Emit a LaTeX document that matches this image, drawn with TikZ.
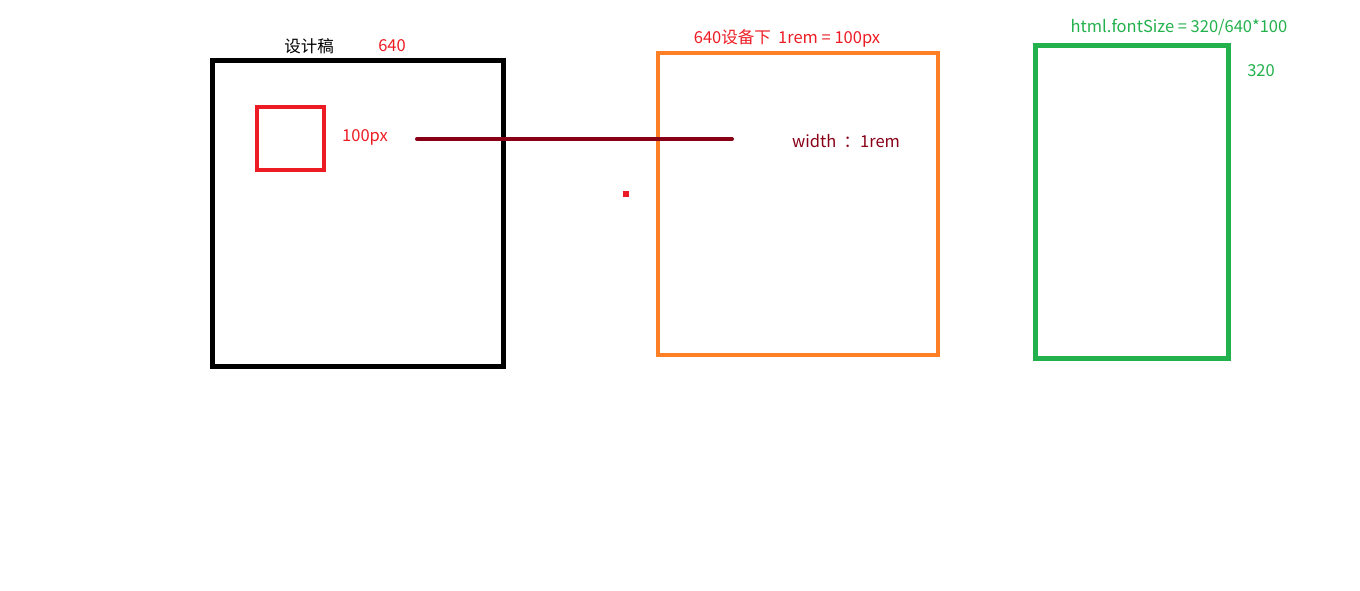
\documentclass[tikz,border=0pt]{standalone}
\usepackage{fontspec}
\setmainfont{Noto Sans CJK SC}
\usetikzlibrary{positioning}

\definecolor{paintred}{RGB}{237,28,36}
\definecolor{darkred}{RGB}{136,0,21}
\definecolor{paintorange}{RGB}{255,127,39}
\definecolor{paintgreen}{RGB}{34,177,76}

\begin{document}
\begin{tikzpicture}[
    x=1pt, y=-1pt,
    font=\fontsize{16.5}{19}\selectfont,
    outer sep=0pt,
    % --- 樣式定義 ---
    frame box/.style={draw, fill=none, inner sep=0pt},
    design box/.style={frame box, draw=black, line width=5pt,
        minimum width=291pt, minimum height=305pt},
    item box/.style={frame box, draw=paintred, line width=4pt,
        minimum width=67pt, minimum height=63pt},
    device box/.style={frame box, draw=paintorange, line width=4pt,
        minimum width=280pt, minimum height=302pt},
    small box/.style={frame box, draw=paintgreen, line width=5pt,
        minimum width=193pt, minimum height=312pt},
    note/.style={inner sep=0pt, anchor=center},
    red note/.style={note, text=paintred},
    green note/.style={note, text=paintgreen}
]
    \useasboundingbox (0,0) rectangle (1360,591);

    % ====== 設計稿 ======
    \node[design box] (design) at (357.5,213.5) {};
    \node[note] (design title) at (309,46) {设计稿};
    \node[red note] (design width) at (392,46) {640};
    \node[item box] (item) at (290.5,138.5) {};
    \node[red note] (item label) at (365,137) {100px};

    % ====== 640 設備 ======
    \node[device box] (device) at (798,204) {};
    \node[red note] (device title) at (787,38) {640设备下\ \ 1rem = 100px};
    \node[note, text=darkred] (rem label) at (846,141) {width \ ：1rem};

    % ====== 320 設備 ======
    \node[small box] (small) at (1131.5,202) {};
    \node[green note] (small title) at (1179,27) {html.fontSize = 320/640*100};
    \node[green note] (small width) at (1261,71) {320};

    % 小紅點
    \node[fill=paintred, minimum size=6pt, inner sep=0pt] (dot) at (626,194) {};

    % ====== 連接線 ======
    \coordinate (line start) at (417,139);
    \coordinate (line end) at (732,139);
    \draw[darkred, line width=4pt, line cap=round] (line start) -- (line end);

\end{tikzpicture}
\end{document}
